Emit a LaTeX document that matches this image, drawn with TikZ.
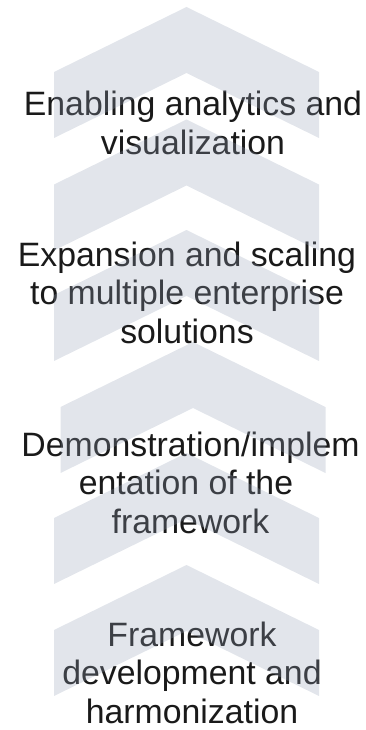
\documentclass[tikz,border=0pt]{standalone}
\usepackage{fontspec}
\setmainfont{Liberation Sans}
\definecolor{chev}{RGB}{151,162,184}
\definecolor{ink}{RGB}{26,26,26}
\begin{document}
\begin{tikzpicture}[x=1pt,y=-1pt,
  lbl/.style={anchor=base, inner sep=0pt, text=ink, font=\fontsize{33.8}{38.5}\selectfont},
  chevshape/.style={fill=chev, fill opacity=0.28, draw=none}]
\useasboundingbox (0,0) rectangle (365,730);
% labels (drawn first, the translucent chevrons lie over them)
\node[lbl] (t1) at (193,116) {\begin{tabular}[t]{@{}c@{}}Enabling analytics and\\visualization\end{tabular}};
\node[lbl] (t2) at (187,266) {\begin{tabular}[t]{@{}c@{}}Expansion and scaling\\to multiple enterprise\\solutions\end{tabular}};
\node[lbl] (t3) at (190.5,456) {\begin{tabular}[t]{@{}c@{}}Demonstration/implem\\entation of the\kern9pt\\framework\end{tabular}};
\node[lbl] (t4) at (192,646) {\begin{tabular}[t]{@{}c@{}}Framework\\development and\\harmonization\end{tabular}};
% chevrons
\foreach \cx/\t in {186.5/7, 186.5/119.5, 186.5/230, 193/342, 186.5/453, 186.5/565}
  \fill[chevshape] (\cx,\t) -- ++(132.5,65) -- ++(0,66) -- ++(-132.5,-65)
     -- ++(-132.5,65) -- ++(0,-66) -- cycle;
\end{tikzpicture}
\end{document}
